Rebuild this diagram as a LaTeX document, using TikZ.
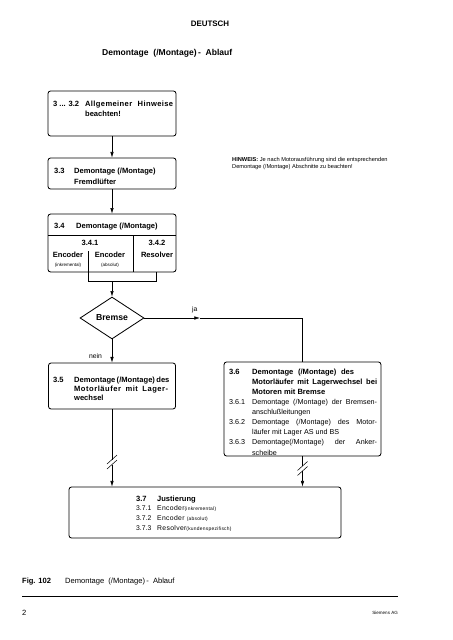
\documentclass[tikz,border=0pt]{standalone}
\usepackage{fontspec}
\setmainfont{Liberation Sans}
\usepackage{tikz}
\usetikzlibrary{calc,shapes.geometric,arrows.meta}
\newlength{\px}
\setlength{\px}{0.4646mm}
\newcommand{\spreadline}[2]{\makebox[#1\px][s]{#2}}
\newcommand{\cutmark}[1]{\draw[line width=0.7pt] ([shift={(-5,4.5)}]#1) -- ([shift={(5,-4.5)}]#1);}

\begin{document}
\begin{tikzpicture}[x=0.4646mm,y=-0.4646mm,font=\fontsize{10}{12}\selectfont,>={Latex[length=2.6mm,width=1.6mm]}]
      \tikzstyle{box}=[draw,line width=1.1pt,rounded corners=1.2mm,inner sep=0]
      \tikzstyle{decision}=[draw,diamond,line width=1.1pt,minimum width=29.7mm,minimum height=19.5mm,inner sep=0,font=\fontsize{11.5}{13}\selectfont\bfseries]
      \tikzstyle{txt}=[inner sep=0,anchor=base west]
      \tikzstyle{mid}=[inner sep=0,anchor=base]
      \tikzstyle{conn}=[line width=0.7pt]
      \useasboundingbox (0,0) rectangle (452,640);
      \node[mid](lang) at (210,27){\fontsize{10.5}{12}\selectfont\bfseries DEUTSCH};
      \node[txt](title) at (102,56){\fontsize{11.3}{13}\selectfont\bfseries Demontage\ \ (/Montage)\,-\ \ Ablauf};
      \node[txt](hint) at (232,162){\fontsize{7.5}{9.2}\selectfont\begin{tabular}[t]{@{}l@{}}
          \textbf{HINWEIS:} Je nach Motorausführung sind die entsprechenden\\
          Demontage (/Montage) Abschnitte zu beachten!\end{tabular}};
      % boxes
      \node[box,minimum width=59.5mm,minimum height=20.9mm](b1) at (112,113.5){};
      \node[txt](t1) at (53,107){\fontsize{10}{11.9}\selectfont\bfseries\begin{tabular}[t]{@{}p{32\px}@{}l@{}}
          3 ... 3.2 & \addfontfeature{LetterSpace=5}\spreadline{88}{Allgemeiner Hinweise}\\
                    & beachten!\end{tabular}};
      \node[box,minimum width=59.5mm,minimum height=14.4mm](b33) at (112,173.5){};
      \node[txt](t33) at (54,174){\fontsize{10}{14.5}\selectfont\bfseries\begin{tabular}[t]{@{}p{20\px}@{}l@{}}
          3.3 & Demontage (/Montage)\\
              & Fremdlüfter\end{tabular}};
      \node[box,minimum width=59.5mm,minimum height=26.9mm](b34) at (112,243){};
      \node[txt](t34) at (54,228){\bfseries\begin{tabular}[t]{@{}p{22\px}@{}l@{}}
          3.4 & Demontage (/Montage)\end{tabular}};
      \node[mid](n341) at (90,245){\bfseries 3.4.1};
      \node[mid](n342) at (157,245){\bfseries 3.4.2};
      \node[mid](enc1) at (68,257){\bfseries Encoder};
      \node[mid](enc2) at (110,257){\bfseries Encoder};
      \node[mid](res) at (157,257){\bfseries Resolver};
      \node[mid](ink) at (68,266){\fontsize{6}{7}\selectfont(inkremental)};
      \node[mid](abs) at (110,266){\fontsize{6}{7}\selectfont(absolut)};
      \draw[conn] (48,235) -- (176,235);
      \draw[conn] (133,235) -- (133,272);
      \coordinate (join) at (112,281);
      \draw[conn] (88,251) -- (88,281) -- (156,281) -- (156,272);
      \node[decision](d) at (112,318){Bremse};
      \node[box,minimum width=59mm,minimum height=21.4mm](b35) at (112,386){};
      \node[txt](t35) at (53,382){\fontsize{10}{11.9}\selectfont\bfseries\begin{tabular}[t]{@{}p{21\px}@{}l@{}}
          3.5 & \spreadline{94}{Demontage (/Montage) des}\\
              & \addfontfeature{LetterSpace=7}\spreadline{94}{Motorläufer mit Lager-}\\
              & wechsel\end{tabular}};
      \node[box,minimum width=72.9mm,minimum height=43.7mm](b36) at (302.5,409){};
      \node[txt](t36) at (229,374){\fontsize{10}{13.4}\selectfont\begin{tabular}[t]{@{}p{23\px}@{}l@{}}
          \bfseries 3.6 & \bfseries\spreadline{102}{Demontage (/Montage) des}\\
              & \bfseries\spreadline{125}{Motorläufer mit Lagerwechsel bei}\\
              & \bfseries Motoren mit Bremse\\
          \fontsize{9.5}{13.4}\selectfont 3.6.1 & \fontsize{9.5}{13.4}\selectfont\spreadline{125}{Demontage (/Montage) der Bremsen-}\\
              & \fontsize{9.5}{13.4}\selectfont anschlußleitungen\\
          \fontsize{9.5}{13.4}\selectfont 3.6.2 & \fontsize{9.5}{13.4}\selectfont\spreadline{125}{Demontage (/Montage) des Motor-}\\
              & \fontsize{9.5}{13.4}\selectfont läufer mit Lager AS und BS\\
          \fontsize{9.5}{13.4}\selectfont 3.6.3 & \fontsize{9.5}{13.4}\selectfont\spreadline{125}{Demontage(/Montage) der Anker-}\\
              & \fontsize{9.5}{13.4}\selectfont scheibe\end{tabular}};
      \node[box,minimum width=126.4mm,minimum height=23.7mm](b37) at (205,512.5){};
      \node[txt](t37) at (136,501){\fontsize{9}{13.2}\selectfont\begin{tabular}[t]{@{}p{21\px}@{}l@{}}
          \fontsize{10}{13.2}\selectfont\bfseries 3.7 & \fontsize{10}{13.2}\selectfont\bfseries Justierung\\
          3.7.1 & \addfontfeature{LetterSpace=5}Encoder{\fontsize{6.5}{7}\selectfont(inkremental)}\\
          3.7.2 & \addfontfeature{LetterSpace=5}Encoder {\fontsize{6.5}{7}\selectfont(absolut)}\\
          3.7.3 & \addfontfeature{LetterSpace=5}Resolver{\fontsize{6.5}{7}\selectfont(kundenspezifisch)}\end{tabular}};
      % connectors
      \draw[conn,->] (b1.south) -- (b33.north);
      \draw[conn,->] (b33.south) -- (b34.north);
      \draw[conn,->] (join) -- (d.north);
      \coordinate (jaTip) at (200,318);
      \draw[conn,->] (d.east) -- (jaTip);
      \draw[conn] (jaTip) -| (b36.north);
      \node[txt,font=\fontsize{9}{11}\selectfont](ja) at (192,311){ja};
      \draw[conn,->] (d.south) -- (b35.north);
      \node[txt,font=\fontsize{9}{11}\selectfont](nein) at (89,358){nein};
      \coordinate (cutL1) at (112,459.5);
      \coordinate (cutL2) at (112,464.5);
      \draw[conn] (b35.south) -- (cutL1);
      \draw[conn,->] (cutL2) -- (cutL2 |- b37.north);
      \cutmark{cutL1}
      \cutmark{cutL2}
      \coordinate (cutR1) at (302.5,466);
      \coordinate (cutR2) at (302.5,471);
      \draw[conn] (b36.south) -- (cutR1);
      \draw[conn,->] (cutR2) -- (cutR2 |- b37.north);
      \cutmark{cutR1}
      \cutmark{cutR2}
      % footer
      \node[txt](fig) at (22,583){\bfseries Fig. 102};
      \node[txt](figcap) at (65,583){Demontage\ \ (/Montage)\,-\ \ Ablauf};
      \draw[line width=0.8pt] (22,596) -- (398,596);
      \node[txt](page) at (22,615){2};
      \node[inner sep=0,anchor=base east](firm) at (398,614){\fontsize{6}{7}\selectfont Siemens AG};
\end{tikzpicture}
\end{document}
